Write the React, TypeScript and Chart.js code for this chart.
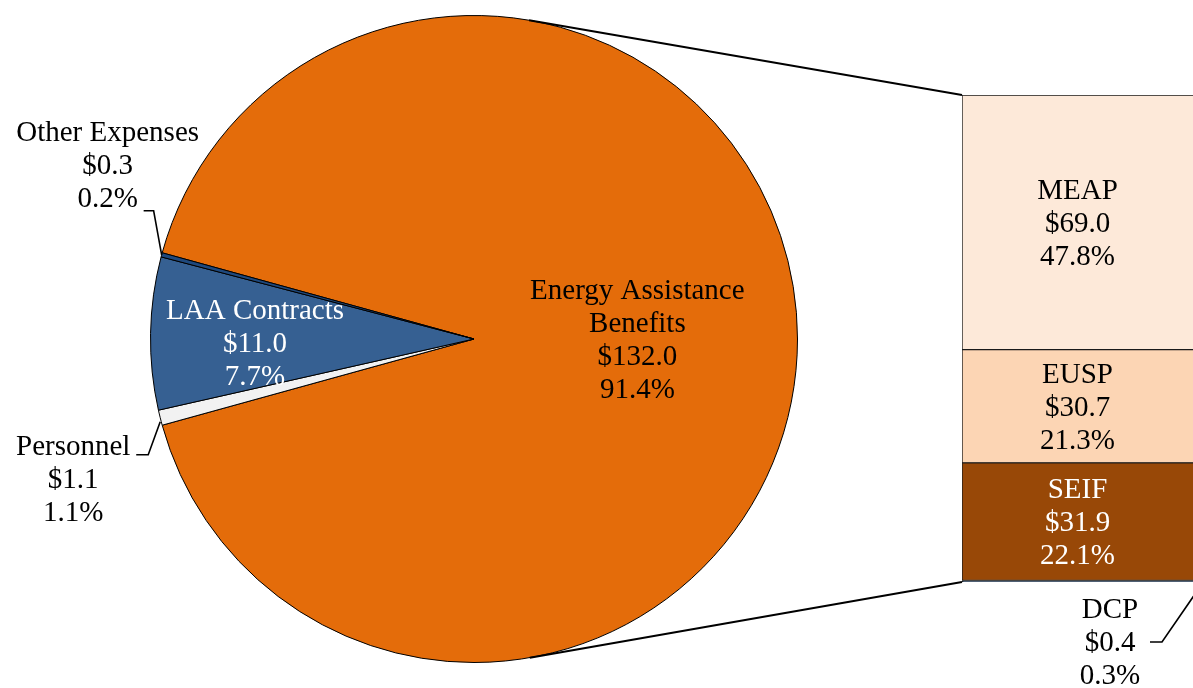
import React, { useEffect, useRef } from "react";
import { Chart, registerables } from "chart.js";

Chart.register(...registerables);

// ---------- data ----------
const pieLabels = ["Energy Assistance\nBenefits", "Personnel", "LAA Contracts", "Other Expenses"];
const pieValues = [132.0, 1.1, 11.0, 0.3];
const piePercents = ["91.4%", "1.1%", "7.7%", "0.2%"];
const pieColors = ["#E46C0A", "#F2F2F2", "#366092", "#1F497D"];

const barLabels = ["MEAP", "EUSP", "SEIF", "DCP"];
const barValues = [69.0, 30.7, 31.9, 0.4];
const barPercents = ["47.8%", "21.3%", "22.1%", "0.3%"];
const barColors = ["#FDE9D9", "#FCD5B4", "#984807", "#17375E"];
const barTextColors = ["#000000", "#000000", "#FFFFFF", "#000000"];

// ---------- layout ----------
const W = 1193;
const H = 688;
const FONT = '"Liberation Serif", "Times New Roman", serif';
const FS = 29;
const LH = 33;

function drawLines(ctx: CanvasRenderingContext2D, lines: string[], x: number, y: number, color: string) {
  ctx.save();
  ctx.fillStyle = color;
  ctx.font = `${FS}px ${FONT}`;
  ctx.textAlign = "center";
  ctx.textBaseline = "middle";
  const n = lines.length;
  lines.forEach((t, i) => ctx.fillText(t, x, y + (i - (n - 1) / 2) * LH));
  ctx.restore();
}

function polyline(ctx: CanvasRenderingContext2D, pts: number[][], width = 1.5) {
  ctx.save();
  ctx.strokeStyle = "#000";
  ctx.lineWidth = width;
  ctx.lineJoin = "miter";
  ctx.beginPath();
  pts.forEach((p, i) => (i === 0 ? ctx.moveTo(p[0], p[1]) : ctx.lineTo(p[0], p[1])));
  ctx.stroke();
  ctx.restore();
}

function labelLines(i: number): string[] {
  return [...pieLabels[i].split("\n"), "$" + pieValues[i].toFixed(1), piePercents[i]];
}

const pieLabelPlugin = {
  id: "pieLabels",
  afterDraw(chart: any) {
    const ctx = chart.ctx as CanvasRenderingContext2D;
    const arcs = chart.getDatasetMeta(0).data as any[];
    const cx = arcs[0].x;
    const cy = arcs[0].y;
    const r = arcs[0].outerRadius;
    const mid = (a: any) => (a.startAngle + a.endAngle) / 2;
    const at = (a: any, k: number) => [cx + Math.cos(mid(a)) * r * k, cy + Math.sin(mid(a)) * r * k];

    // Energy Assistance Benefits (inside)
    const e = at(arcs[0], 0.505);
    drawLines(ctx, labelLines(0), e[0], e[1] + 2, "#000");

    // LAA Contracts (inside)
    const l = at(arcs[2], 0.677);
    drawLines(ctx, labelLines(2), l[0], l[1] + 9, "#FFFFFF");

    // Other Expenses (outside, leader)
    const o = at(arcs[3], 1.0);
    polyline(ctx, [[o[0], o[1]], [o[0] - 8, o[1] - 44], [o[0] - 18, o[1] - 44]], 1.6);
    drawLines(ctx, labelLines(3), o[0] - 54, o[1] - 88, "#000");

    // Personnel (outside, leader)
    const p = at(arcs[1], 1.0);
    polyline(ctx, [[p[0], p[1] + 4], [p[0] - 12, p[1] + 37], [p[0] - 24, p[1] + 37]], 1.6);
    drawLines(ctx, labelLines(1), p[0] - 87, p[1] + 63, "#000");
  },
};

function tangent(cx: number, cy: number, r: number, px: number, py: number, sign: number) {
  const dx = px - cx;
  const dy = py - cy;
  const d = Math.hypot(dx, dy);
  const base = Math.atan2(dy, dx);
  const a = Math.acos(r / d);
  const ang = base + sign * a;
  return [cx + r * Math.cos(ang), cy + r * Math.sin(ang)];
}

export default function App() {
  const pieRef = useRef<HTMLCanvasElement>(null);
  const barRef = useRef<HTMLCanvasElement>(null);

  useEffect(() => {
    const total = pieValues.reduce((s, v) => s + v, 0);
    const energyDeg = (pieValues[0] / total) * 360;

    const pie = new Chart(pieRef.current!, {
      type: "pie",
      data: {
        labels: pieLabels,
        datasets: [
          {
            data: pieValues,
            backgroundColor: pieColors,
            borderColor: "#000000",
            borderWidth: 1,
          },
        ],
      },
      options: {
        responsive: false,
        animation: false,
        devicePixelRatio: 1,
        rotation: 90 - energyDeg / 2,
        layout: { padding: { left: 150, right: W - 798, top: 15, bottom: H - 663 } },
        plugins: { legend: { display: false }, tooltip: { enabled: false } },
      } as any,
      plugins: [pieLabelPlugin],
    });

    const barTotal = barValues.reduce((s, v) => s + v, 0);
    const order = [3, 2, 1, 0]; // stack bottom-up: DCP, SEIF, EUSP, MEAP

    const barPlugin = {
      id: "barLabels",
      afterDraw(chart: any) {
        const ctx = chart.ctx as CanvasRenderingContext2D;
        const area = chart.chartArea;
        // bar segment labels
        order.forEach((idx, di) => {
          const el = chart.getDatasetMeta(di).data[0] as any;
          if (idx === 3) return;
          const yMid = (el.y + el.base) / 2;
          drawLines(ctx, [barLabels[idx], "$" + barValues[idx].toFixed(1), barPercents[idx]], el.x, yMid + 2, barTextColors[idx]);
        });
        // DCP label with leader
        const dcp = chart.getDatasetMeta(0).data[0] as any;
        const bx = area.left;
        const by = dcp.base;
        polyline(ctx, [[bx + 188, by + 60], [bx + 200, by + 60], [area.right + 11, by - 1]], 1.6);
        drawLines(ctx, [barLabels[3], "$" + barValues[3].toFixed(1), barPercents[3]], bx + 148, by + 61, "#000");

        // connector lines from pie to bar
        const arc = pie.getDatasetMeta(0).data[0] as any;
        const cx = arc.x;
        const cy = arc.y;
        const r = arc.outerRadius;
        const topEl = chart.getDatasetMeta(3).data[0] as any;
        const topY = topEl.y;
        const botY = dcp.base;
        const t1 = tangent(cx, cy, r, area.left, topY, -1);
        const t2 = tangent(cx, cy, r, area.left, botY, 1);
        polyline(ctx, [t1, [area.left, topY]], 2);
        polyline(ctx, [t2, [area.left, botY]], 2);
      },
    };

    const bar = new Chart(barRef.current!, {
      type: "bar",
      data: {
        labels: [""],
        datasets: order.map((i) => ({
          label: barLabels[i],
          data: [barValues[i]],
          backgroundColor: barColors[i],
          borderColor: "#1a1a1a",
          borderWidth: { top: 1, left: 1, bottom: 1, right: 0 },
          borderSkipped: false,
          barPercentage: 1,
          categoryPercentage: 1,
        })),
      },
      options: {
        responsive: false,
        animation: false,
        devicePixelRatio: 1,
        layout: { padding: { left: 962, right: 0, top: 95, bottom: H - 582 } },
        plugins: { legend: { display: false }, tooltip: { enabled: false } },
        scales: {
          x: { display: false, stacked: true },
          y: { display: false, stacked: true, min: 0, max: barTotal },
        },
      } as any,
      plugins: [barPlugin],
    });

    return () => {
      bar.destroy();
      pie.destroy();
    };
  }, []);

  return (
    <div style={{ position: "fixed", left: 0, top: 0, width: W, height: H, overflow: "hidden", background: "#fff" }}>
      <canvas ref={pieRef} width={W} height={H} style={{ position: "absolute", left: 0, top: 0 }} />
      <canvas ref={barRef} width={W} height={H} style={{ position: "absolute", left: 0, top: 0 }} />
    </div>
  );
}
